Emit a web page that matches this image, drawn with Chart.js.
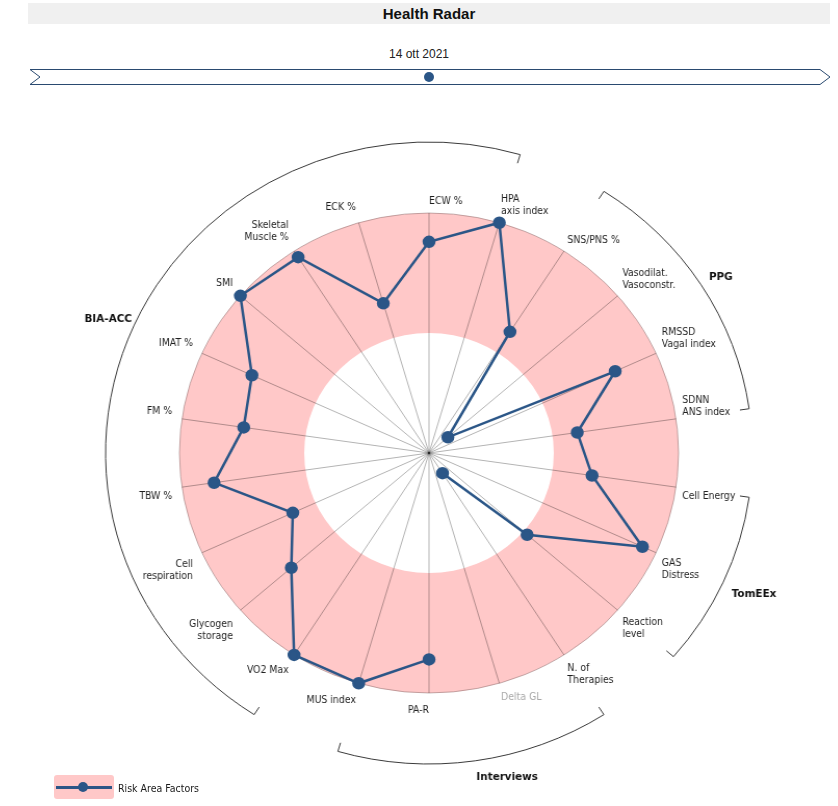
<!DOCTYPE html>
<html>
<head>
<meta charset="utf-8">
<script src="https://cdn.jsdelivr.net/npm/chart.js@4.4.1/dist/chart.umd.min.js"></script>
<style>
html,body{margin:0;padding:0;background:#fff;}
body{width:838px;height:806px;position:relative;overflow:hidden;font-family:"Liberation Sans",Arial,sans-serif;}
#title{position:absolute;left:28px;top:3px;width:802px;height:21px;background:#f0f0f0;text-align:center;font-weight:bold;font-size:15px;line-height:21px;color:#111;}
#date{position:absolute;left:0;width:838px;top:46px;text-align:center;font-size:12px;line-height:16px;color:#222;}
#timeline{position:absolute;left:0;top:0;}
#wrap{position:absolute;left:0;top:100px;width:838px;height:706px;transform:scaleX(1.04);transform-origin:429px 0;}
#sw{position:absolute;left:54px;top:775px;width:60px;height:24px;background:rgb(255,200,200);border-radius:3px;}
#ln{position:absolute;left:2px;right:2px;top:11px;height:2.5px;}
#dt{position:absolute;left:24px;top:7px;width:10px;height:10px;border-radius:50%;}
#lt{position:absolute;left:118px;top:781px;font-family:"DejaVu Sans Condensed","Liberation Sans",sans-serif;font-size:10.5px;line-height:14px;color:#1a1a1a;}
</style>
</head>
<body>
<div id="title">Health Radar</div>
<div id="date">14 ott 2021</div>
<svg id="timeline" width="838" height="100">
  <polygon points="30,69.5 820,69.5 830,77 820,84.5 30,84.5 40,77" fill="#fff" stroke="#2a4a70" stroke-width="1"/>
  <circle cx="429" cy="77" r="5" fill="#2b5687"/>
</svg>
<div id="wrap"><canvas id="c" width="838" height="706"></canvas></div>
<div id="sw"><div id="ln"></div><div id="dt"></div></div>
<div id="lt"></div>
<script>
const categories = [
  "ECW %", ["HPA","axis index"], "SNS/PNS %", ["Vasodilat.","Vasoconstr."],
  ["RMSSD","Vagal index"], ["SDNN","ANS index"], "Cell Energy", ["GAS","Distress"],
  ["Reaction","level"], ["N. of","Therapies"], "Delta GL", "PA-R", "MUS index",
  "VO2 Max", ["Glycogen","storage"], ["Cell","respiration"], "TBW %", "FM %",
  "IMAT %", "SMI", ["Skeletal","Muscle %"], "ECK %"
];
const seriesLabel = "Risk Area Factors";
const riskValues = [88,100,60,10,82,60,66,94,52,10,null,86,100,100,73,60,87,75,78,100,97,65];
const scaleMin = 0;
const scaleMax = 100;
const riskThreshold = 50;
const groupNames = ["BIA-ACC","PPG","TomEEx","Interviews"];
const groupStart = [13,2,6,9];
const groupEnd = [23,5,8,12];

const BLUE = "#2b5687";
const PINK = "rgb(255,200,200)";

document.getElementById('lt').textContent = seriesLabel;
document.getElementById('ln').style.background = BLUE;
document.getElementById('dt').style.background = BLUE;

const decor = {
  id: 'decor',
  beforeDraw(chart) {
    const s = chart.scales.r, ctx = chart.ctx;
    const r1 = s.getDistanceFromCenterForValue(scaleMax);
    const r0 = s.getDistanceFromCenterForValue(riskThreshold);
    ctx.save();
    ctx.beginPath();
    ctx.arc(s.xCenter, s.yCenter, r1, 0, Math.PI * 2);
    ctx.arc(s.xCenter, s.yCenter, r0, 0, Math.PI * 2, true);
    ctx.fillStyle = PINK;
    ctx.fill();
    ctx.beginPath();
    ctx.arc(s.xCenter, s.yCenter, r1, 0, Math.PI * 2);
    ctx.strokeStyle = 'rgba(120,90,90,0.45)';
    ctx.lineWidth = 1;
    ctx.stroke();
    ctx.restore();
  },
  afterDraw(chart) {
    const s = chart.scales.r, ctx = chart.ctx;
    const n = categories.length;
    const R = s.getDistanceFromCenterForValue(scaleMax);
    ctx.save();
    // point labels
    ctx.font = '10px "DejaVu Sans Condensed", "Liberation Sans", sans-serif';
    ctx.textBaseline = 'middle';
    categories.forEach((lab, i) => {
      const deg = i * 360 / n;
      const right = deg < 180;
      const top = deg < 90 || deg > 270;
      const p = s.getPointPosition(i, R + (right ? 6 : 9.5));
      const lines = Array.isArray(lab) ? lab : [lab];
      ctx.textAlign = right ? 'left' : 'right';
      ctx.fillStyle = riskValues[i] === null ? '#a8a8a8' : '#1e1e1e';
      const y0 = top ? p.y - 6 - (lines.length - 1) * 12 : p.y + 8;
      lines.forEach((ln, k) => ctx.fillText(ln, p.x, y0 + k * 12));
    });
    // group arcs
    const RA = R + 71;
    ctx.strokeStyle = '#3a3a3a';
    ctx.lineWidth = 1;
    groupNames.forEach((g, gi) => {
      const a0 = s.getIndexAngle(groupStart[gi] % n) - Math.PI / 2;
      const a1 = s.getIndexAngle(groupEnd[gi] % n) - Math.PI / 2;
      const cx = s.xCenter, cy = s.yCenter;
      ctx.beginPath();
      ctx.moveTo(cx + (RA - 9) * Math.cos(a0), cy + (RA - 9) * Math.sin(a0));
      ctx.lineTo(cx + RA * Math.cos(a0), cy + RA * Math.sin(a0));
      ctx.arc(cx, cy, RA, a0, a1);
      ctx.lineTo(cx + (RA - 9) * Math.cos(a1), cy + (RA - 9) * Math.sin(a1));
      ctx.stroke();
    });
    // group labels
    ctx.font = 'bold 10px "DejaVu Sans", sans-serif';
    ctx.fillStyle = '#111';
    groupNames.forEach((g, gi) => {
      const mid = (groupStart[gi] + groupEnd[gi]) / 2;
      const deg = (mid * 360 / n) % 360;
      const right = deg < 180;
      const top = deg < 90 || deg > 270;
      const p = s.getPointPosition(mid, RA + (right ? 9 : 3));
      ctx.textAlign = right ? 'left' : 'right';
      ctx.fillText(g, p.x, top ? p.y - 3 : p.y + 8);
    });
    ctx.restore();
  }
};

new Chart(document.getElementById('c'), {
  type: 'radar',
  data: {
    labels: categories,
    datasets: [{
      label: seriesLabel,
      data: riskValues,
      borderColor: BLUE,
      backgroundColor: BLUE,
      pointBackgroundColor: BLUE,
      pointBorderColor: BLUE,
      pointRadius: 5,
      pointHoverRadius: 5,
      borderWidth: 2.5,
      fill: false,
      spanGaps: false,
      tension: 0
    }]
  },
  options: {
    responsive: false,
    animation: false,
    layout: { padding: { left: 189, right: 168, top: 113, bottom: 112 } },
    plugins: { legend: { display: false }, title: { display: false }, tooltip: { enabled: false } },
    scales: {
      r: {
        min: scaleMin,
        max: scaleMax,
        startAngle: 0,
        ticks: { display: false },
        grid: { display: false },
        angleLines: { display: true, color: 'rgba(0,0,0,0.3)', lineWidth: 1 },
        pointLabels: { display: false }
      }
    }
  },
  plugins: [decor]
});
</script>
</body>
</html>
